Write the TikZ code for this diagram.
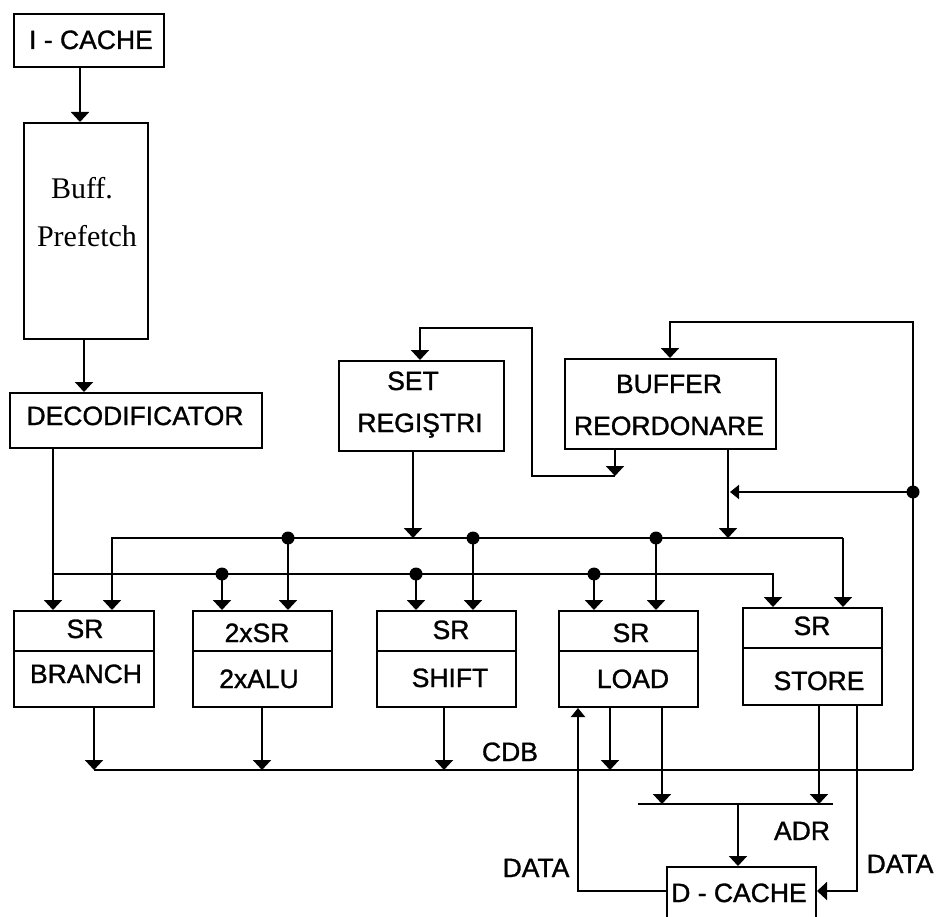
\documentclass[tikz,border=0pt]{standalone}
\usepackage{fontspec}
\setmainfont{Liberation Sans}
\newfontfamily\lblfont[FakeBold=1.2]{Liberation Sans}
\newfontfamily\seriffont{Liberation Serif}
\usetikzlibrary{arrows.meta}
\begin{document}
\begin{tikzpicture}[x=1pt,y=-1pt,line width=2pt,
  box/.style={draw,line width=2pt,inner sep=0pt,anchor=north west},
  t/.style={inner sep=0pt,anchor=base,font=\lblfont\fontsize{26.5}{28}\selectfont},
  ts/.style={inner sep=0pt,anchor=base,font=\seriffont\fontsize{30}{32}\selectfont},
  arr/.style={-{Triangle[width=18pt,length=10pt]}},
  arrs/.style={-{Triangle[width=14pt,length=9pt]}},
  dot/.style={circle,fill,inner sep=0pt,minimum size=13pt}]
\clip (0,0) rectangle (937,917);
\fill[white] (0,0) rectangle (937,917);

% boxes
\node[box,minimum width=150,minimum height=53] (icache) at (13,13) {};
\node[box,minimum width=124,minimum height=216] (buff) at (23,122) {};
\node[box,minimum width=252,minimum height=55] (dec) at (9,392) {};
\node[box,minimum width=165,minimum height=90] (set) at (338,360) {};
\node[box,minimum width=211,minimum height=90] (rob) at (564,358) {};
\node[box,minimum width=140,minimum height=96] (branch) at (13,610) {};
\node[box,minimum width=139,minimum height=96] (alu) at (192,610) {};
\node[box,minimum width=139,minimum height=96] (shift) at (376,610) {};
\node[box,minimum width=139,minimum height=96] (load) at (558,610) {};
\node[box,minimum width=139,minimum height=97] (store) at (742,607) {};
\node[box,minimum width=149,minimum height=80] (dcache) at (666,866) {};

% dividers
\draw (branch.west |- 0,651) -- (branch.east |- 0,651);
\draw (alu.west |- 0,651) -- (alu.east |- 0,651);
\draw (shift.west |- 0,651) -- (shift.east |- 0,651);
\draw (load.west |- 0,651) -- (load.east |- 0,651);
\draw (store.west |- 0,648) -- (store.east |- 0,648);

% texts
\node[t] (ticache) at (91,49) {I - CACHE};
\node[ts] (tbuff1) at (82,199) {Buff.};
\node[ts] (tbuff2) at (87,247) {Prefetch};
\node[t] (tdec) at (135,425) {DECODIFICATOR};
\node[t] (tset1) at (413,390) {SET};
\node[t] (tset2) at (420,432) {REGIŞTRI};
\node[t] (trob1) at (669,393) {BUFFER};
\node[t] (trob2) at (669,435) {REORDONARE};
\node[t] (tbr1) at (85,638) {SR};
\node[t] (tbr2) at (86,683) {BRANCH};
\node[t] (talu1) at (257,642) {2xSR};
\node[t] (talu2) at (259,688) {2xALU};
\node[t] (tsh1) at (451,639) {SR};
\node[t] (tsh2) at (450,687) {SHIFT};
\node[t] (tld1) at (631,642) {SR};
\node[t] (tld2) at (633,688) {LOAD};
\node[t] (tst1) at (812,635) {SR};
\node[t] (tst2) at (819,690) {STORE};
\node[t] (tcdb) at (510,761) {CDB};
\node[t] (tadr) at (802,840) {ADR};
\node[t] (tdata1) at (536,877) {DATA};
\node[t] (tdata2) at (900,873) {DATA};
\node[t] (tdc) at (739,902) {D - CACHE};

% fetch chain
\draw[arr] (icache.south -| 80,0) -- (buff.north -| 80,0);
\draw[arr] (buff.south -| 84,0) -- (dec.north -| 84,0);
\draw[arr] (dec.south -| 53,0) -- (branch.north -| 53,0);

% lower bus
\coordinate (lbL) at (53,574);
\coordinate (lbR) at (773,574);
\draw[arr] (lbL) -- (lbR) -- (store.north -| lbR);
\foreach \x/\n in {222/alu,416/shift,594/load}{
  \node[dot] (d\n l) at (\x,574) {};
  \draw[arr] (d\n l.center) -- (\n.north -| d\n l.center);
}

% top bus
\coordinate (tbL) at (112,538);
\coordinate (tbR) at (843,538);
\draw[arr] (set.south -| 413,0) -- (413,538);
\draw[arr] (rob.south -| 728,0) -- (728,538);
\draw[arr] (tbR) -- (tbL) -- (branch.north -| tbL);
\draw[arr] (tbR) -- (store.north -| tbR);
\foreach \x/\n in {288/alu,473/shift,656/load}{
  \node[dot] (d\n t) at (\x,538) {};
  \draw[arr] (d\n t.center) -- (\n.north -| d\n t.center);
}

% reorder buffer loop
\coordinate (cdbR) at (913,770);
\coordinate (cdbL) at (94,770);
\draw[arr] (cdbR) -- (913,322) -- (670,322) -- (rob.north -| 670,0);
\node[dot] (dr) at (913,492) {};
\draw[arrs] (dr.center) -- (730,492);
\coordinate (rs) at (615,476);
\draw[arr] (rob.south -| rs) -- (rs);
\draw[arr] (rs) -- (532,476) -- (532,328) -- (420,328) -- (set.north -| 420,0);

% outputs to CDB
\draw (cdbL) -- (cdbR);
\draw[arr] (branch.south -| cdbL) -- (cdbL);
\draw[arr] (alu.south -| 262,0) -- (262,770);
\draw[arr] (shift.south -| 444,0) -- (444,770);
\draw[arr] (load.south -| 610,0) -- (610,770);

% address bus
\coordinate (adrL) at (638,804);
\coordinate (adrR) at (833,804);
\coordinate (adrM) at (738,804);
\draw (adrL) -- (adrR);
\draw[arr] (load.south -| 662,0) -- (662,804);
\draw[arr] (store.south -| 819,0) -- (819,804);
\draw[arr] (adrM) -- (dcache.north -| adrM);

% data lines
\draw[arrs] (dcache.west |- 0,891) -- (578,891) -- (load.south -| 578,0);
\draw[arr] (store.south -| 857,0) -- (857,891) -- (dcache.east |- 0,891);
\end{tikzpicture}
\end{document}
